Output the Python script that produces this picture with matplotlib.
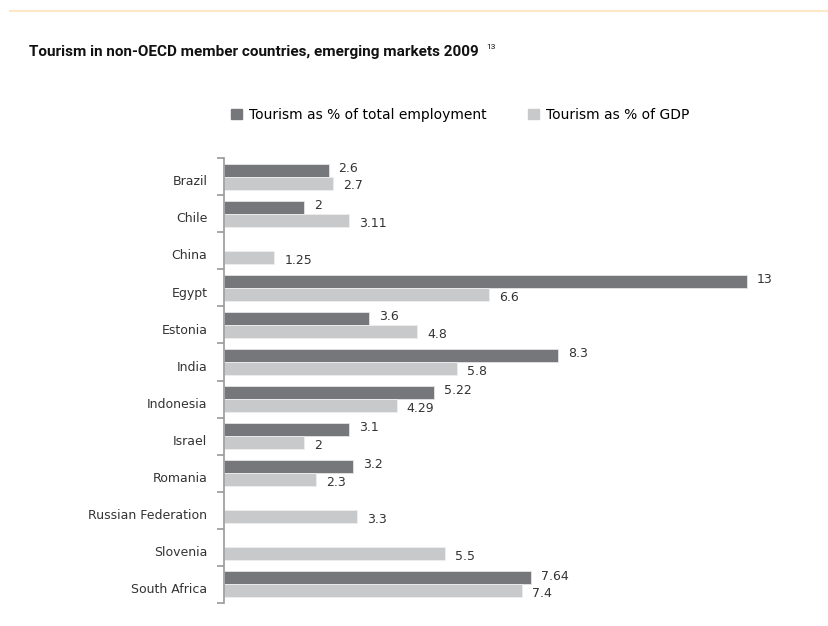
import matplotlib
matplotlib.use('Agg')
import matplotlib.pyplot as plt
from matplotlib.lines import Line2D
from matplotlib.patches import Patch
import numpy as np

countries = ["Brazil", "Chile", "China", "Egypt", "Estonia", "India", "Indonesia",
             "Israel", "Romania", "Russian Federation", "Slovenia", "South Africa"]
employment = [2.6, 2, None, 13, 3.6, 8.3, 5.22, 3.1, 3.2, None, None, 7.64]
gdp = [2.7, 3.11, 1.25, 6.6, 4.8, 5.8, 4.29, 2, 2.3, 3.3, 5.5, 7.4]

emp_label = "Tourism as % of total employment"
gdp_label = "Tourism as % of GDP"
title = "Tourism in non-OECD member countries, emerging markets 2009"

DARK = "#76777b"
LIGHT = "#c8c9cb"
TXT = "#333333"
FONT = ["DejaVu Sans"]
TFONT = ["DejaVu Sans Condensed", "Liberation Sans Narrow", "Roboto", "DejaVu Sans"]

fig = plt.figure(figsize=(8.29, 6.26), dpi=100)
ax = fig.add_axes([224 / 829, 1 - 603 / 626, 563 / 829, 445 / 626])

y = np.arange(len(countries))
h = 0.35
for i, (e, g) in enumerate(zip(employment, gdp)):
    if e is not None:
        ax.barh(i - h / 2, e, height=h, color=DARK, edgecolor="#e6e6e6", linewidth=0.6)
        ax.text(e + 0.25, i - h / 2 - 0.05, str(e), va="center", ha="left",
                fontsize=9, color=TXT, family=FONT)
    if g is not None:
        ax.barh(i + h / 2, g, height=h, color=LIGHT, edgecolor="#eeeeee", linewidth=0.6)
        ax.text(g + 0.25, i + h / 2 + 0.08, str(g), va="center", ha="left",
                fontsize=9, color=TXT, family=FONT)

ax.set_xlim(0, 14)
ax.set_ylim(len(countries) - 0.5, -0.5)
ax.set_yticks(y + 0.1)
ax.set_yticklabels(countries, fontsize=9, color=TXT, family=FONT)
ax.set_yticks(np.arange(-0.5, len(countries)), minor=True)
ax.tick_params(axis="y", which="major", length=0, pad=12)
ax.tick_params(axis="y", which="minor", length=5, color="#999999", width=1.2)
ax.set_xticks([])
for s in ["top", "right", "bottom"]:
    ax.spines[s].set_visible(False)
ax.spines["left"].set_color("#999999")
ax.spines["left"].set_linewidth(1.2)

# top rule and title
fig.add_artist(Line2D([10 / 829, 1], [1 - 11 / 626] * 2, color="#ffe8c8", lw=1.5))
t = fig.text(29 / 829, 1 - 52 / 626, title, fontsize=11, fontweight="bold",
             fontstretch="condensed", family=TFONT, va="center", color="#111111")
fig.canvas.draw()
bb = t.get_window_extent()
fig.text((bb.x1 + 8) / 829, 1 - 47 / 626, "13", fontsize=6,
         family=TFONT, va="center", color="#111111")

handles = [Patch(color=DARK, label=emp_label), Patch(color=LIGHT, label=gdp_label)]
fig.legend(handles=handles, loc="center", bbox_to_anchor=(460 / 829, 1 - 115 / 626),
           ncol=2, frameon=False, handlelength=0.8, handleheight=0.8,
           handletextpad=0.5, columnspacing=3.0, prop={"family": FONT, "size": 10})

fig.savefig("out.png", dpi=100, facecolor="white")
